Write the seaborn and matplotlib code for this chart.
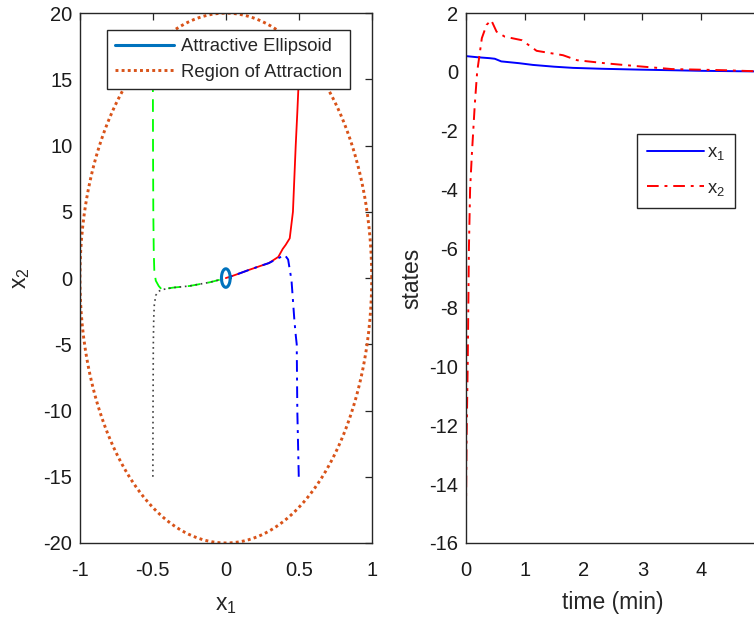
import numpy as np
import pandas as pd
import matplotlib
matplotlib.use("Agg")
import matplotlib.pyplot as plt
import seaborn as sns
from matplotlib.lines import Line2D

sns.set_style("white")
plt.rcParams['font.family'] = ['Liberation Sans', 'DejaVu Sans']
plt.rcParams['mathtext.fontset'] = 'custom'
plt.rcParams['mathtext.rm'] = 'Liberation Sans'
plt.rcParams['mathtext.it'] = 'Liberation Sans'
plt.rcParams['mathtext.default'] = 'regular'
plt.rcParams['axes.unicode_minus'] = False

# ---------------- data: phase plane ----------------
# ellipses: (center x, center y, semi-axis x, semi-axis y)
roa_ellipse = [0.0, 0.0, 1.0, 20.0]
att_ellipse = [0.0, 0.0, 0.03, 0.7]

green_x1 = [-0.5, -0.499, -0.497, -0.494, -0.49, -0.48, -0.46, -0.44, -0.36, -0.25, -0.11, -0.05, 0.0]
green_x2 = [15.0, 10.0, 5.0, 2.0, 0.5, -0.2, -0.6, -0.85, -0.72, -0.6, -0.32, -0.15, 0.0]

black_x1 = [-0.5, -0.499, -0.497, -0.494, -0.49, -0.48, -0.46, -0.44, -0.36, -0.25, -0.11, -0.05, 0.0]
black_x2 = [-15.0, -10.0, -5.0, -3.0, -2.0, -1.3, -1.0, -0.88, -0.72, -0.6, -0.32, -0.15, 0.0]

red_x1 = [0.5, 0.49, 0.479, 0.46, 0.438, 0.41, 0.39, 0.36, 0.295, 0.233, 0.16, 0.096, 0.04, 0.0]
red_x2 = [15.0, 12.5, 10.0, 5.0, 3.0, 2.5, 2.2, 1.6, 1.13, 0.9, 0.62, 0.36, 0.14, 0.0]

blue_x1 = [0.5, 0.49, 0.486, 0.48, 0.47, 0.45, 0.427, 0.404, 0.36, 0.295, 0.233, 0.16, 0.096, 0.04, 0.0]
blue_x2 = [-15.0, -10.0, -5.0, -4.4, -3.2, -0.15, 1.4, 1.74, 1.5, 1.13, 0.9, 0.62, 0.36, 0.14, 0.0]

# ---------------- data: states vs time ----------------
t_x1 = [0.0, 0.2, 0.4, 0.49, 0.6, 0.9, 1.14, 1.5, 1.82, 2.3, 2.96, 3.5, 4.0, 4.9, 5.0]
x1_t = [0.54, 0.5, 0.47, 0.45, 0.36, 0.3, 0.24, 0.18, 0.14, 0.11, 0.08, 0.06, 0.04, 0.02, 0.02]

t_x2 = [0.0, 0.01, 0.03, 0.05, 0.07, 0.1, 0.15, 0.19, 0.27, 0.35, 0.43, 0.52, 0.66, 0.95,
        1.14, 1.2, 1.65, 1.89, 2.4, 2.9, 3.5, 4.4, 5.0]
x2_t = [-15.0, -12.5, -9.9, -6.0, -4.0, -2.8, -1.1, 0.0, 1.15, 1.6, 1.76, 1.37, 1.2, 1.08,
        0.81, 0.72, 0.57, 0.4, 0.29, 0.2, 0.1, 0.06, 0.02]

x1_ticks = [-1, -0.5, 0, 0.5, 1]
x1_ticklabels = ['-1', '-0.5', '0', '0.5', '1']
x2_ticks = [-20, -15, -10, -5, 0, 5, 10, 15, 20]
t_ticks = [0, 1, 2, 3, 4]
s_ticks = [-16, -14, -12, -10, -8, -6, -4, -2, 0, 2]


def ellipse_frame(p, n=400):
    th = np.linspace(0, 2 * np.pi, n)
    return pd.DataFrame({'x': p[0] + p[2] * np.cos(th), 'y': p[1] + p[3] * np.sin(th)})


fig = plt.figure(figsize=(7.54, 6.19), dpi=100)
ax1 = fig.add_axes([0.106, 0.1228, 0.387, 0.856])
ax2 = fig.add_axes([0.618, 0.1228, 0.390, 0.856])

BOX = '#262626'
ORANGE = '#D95319'
MBLUE = '#0072BD'
ROA_LS = (0, (1, 1.1))
DASHDOT = (0, (6, 3, 1.5, 3))

# left panel
roa = ellipse_frame(roa_ellipse)
att = ellipse_frame(att_ellipse)
sns.lineplot(data=roa, x='x', y='y', sort=False, estimator=None, ax=ax1,
             color=ORANGE, linewidth=2.1, linestyle=ROA_LS)
sns.lineplot(x=green_x1, y=green_x2, sort=False, estimator=None, ax=ax1,
             color='#00ff00', linewidth=1.3, linestyle=(0, (7, 4)))
sns.lineplot(x=black_x1, y=black_x2, sort=False, estimator=None, ax=ax1,
             color='#404040', linewidth=1.2, linestyle=(0, (1, 2.2)))
sns.lineplot(x=red_x1, y=red_x2, sort=False, estimator=None, ax=ax1,
             color='#ff0000', linewidth=1.3, linestyle='-')
sns.lineplot(x=blue_x1, y=blue_x2, sort=False, estimator=None, ax=ax1,
             color='#0000ff', linewidth=1.4, linestyle=DASHDOT)
sns.lineplot(data=att, x='x', y='y', sort=False, estimator=None, ax=ax1,
             color=MBLUE, linewidth=2.2, linestyle='-')

ax1.set_xlim(-1, 1)
ax1.set_ylim(-20, 20)
ax1.set_xticks(x1_ticks)
ax1.set_xticklabels(x1_ticklabels)
ax1.set_yticks(x2_ticks)
ax1.set_xlabel('x$_1$', fontsize=16.5, labelpad=9)
ax1.set_ylabel('x$_2$', fontsize=16.5, labelpad=8)

h1 = [Line2D([], [], color=MBLUE, linewidth=2.2),
      Line2D([], [], color=ORANGE, linewidth=2.1, linestyle=ROA_LS)]
leg1 = ax1.legend(h1, ['Attractive Ellipsoid', 'Region of Attraction'],
                  loc='upper left', bbox_to_anchor=(107 / 754, 1 - 30 / 619),
                  bbox_transform=fig.transFigure, fontsize=13.3, frameon=True,
                  fancybox=False, framealpha=1, edgecolor=BOX, borderpad=0.45,
                  handlelength=3.2, handletextpad=0.35, labelspacing=0.45,
                  borderaxespad=0)
leg1.get_frame().set_linewidth(1.0)

# right panel
sns.lineplot(x=t_x1, y=x1_t, sort=False, estimator=None, ax=ax2,
             color='#0000ff', linewidth=1.4, linestyle='-')
sns.lineplot(x=t_x2, y=x2_t, sort=False, estimator=None, ax=ax2,
             color='#ff0000', linewidth=1.4, linestyle=DASHDOT)
ax2.set_xlim(0, 5)
ax2.set_ylim(-16, 2)
ax2.set_xticks(t_ticks)
ax2.set_yticks(s_ticks)
ax2.set_xlabel('time (min)', fontsize=16.5, labelpad=8)
ax2.set_ylabel('states', fontsize=16.5, labelpad=4)

h2 = [Line2D([], [], color='#0000ff', linewidth=1.4),
      Line2D([], [], color='#ff0000', linewidth=1.4, linestyle=DASHDOT)]
leg2 = ax2.legend(h2, ['x$_1$', 'x$_2$'],
                  loc='upper left', bbox_to_anchor=(637 / 754, 1 - 134 / 619),
                  bbox_transform=fig.transFigure, fontsize=13.3, frameon=True,
                  fancybox=False, framealpha=1, edgecolor=BOX, borderpad=0.55,
                  handlelength=3.1, handletextpad=0.12, labelspacing=0.95,
                  borderaxespad=0)
leg2.get_frame().set_linewidth(1.0)

for ax in (ax1, ax2):
    for s in ax.spines.values():
        s.set_color(BOX)
        s.set_linewidth(1.0)
        s.set_visible(True)
    ax.tick_params(direction='in', length=5, width=0.9, color=BOX,
                   top=True, right=True, labelsize=14.5, labelcolor='#1a1a1a')
    ax.tick_params(axis='x', pad=13)
    ax.tick_params(axis='y', pad=5.5)
ax2.tick_params(right=False)

fig.savefig('out.png', dpi=100)
